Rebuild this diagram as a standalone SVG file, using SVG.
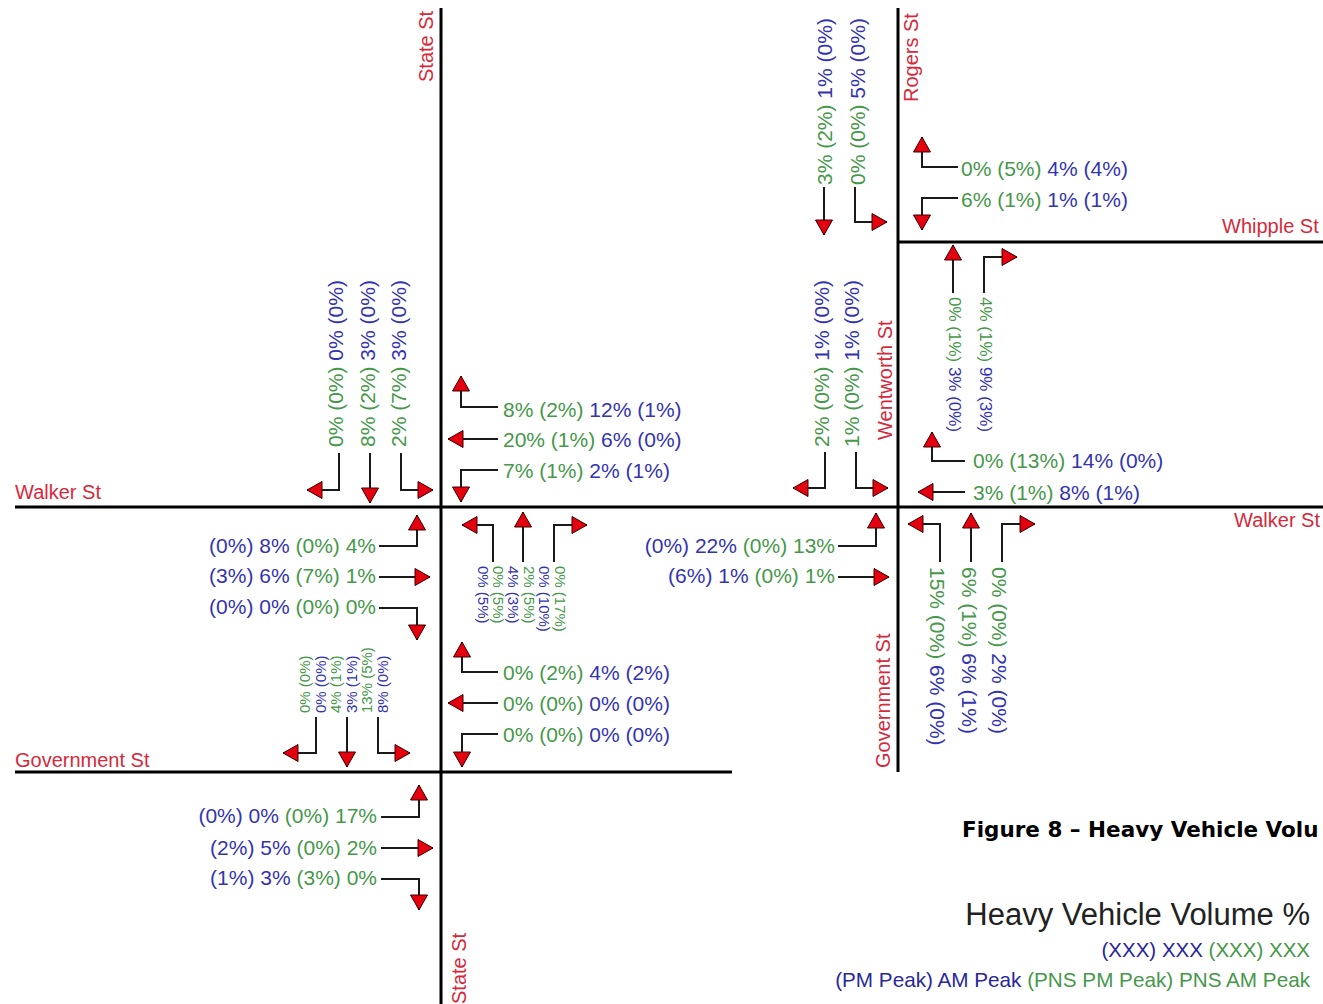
<svg xmlns="http://www.w3.org/2000/svg" width="1323" height="1004" viewBox="0 0 1323 1004">
<style>
text{font-family:"Liberation Sans",Arial,sans-serif}
.lbl{font-size:21px}
.tiny{font-size:15px}
.mid{font-size:17px}
.g{fill:#46984a}
.b{fill:#3434b0}
.st{fill:#d42a3c;font-size:20px}
.road{stroke:#000;stroke-width:3;fill:none}
.arr{stroke:#1a1a1a;stroke-width:2;fill:none;marker-end:url(#ah)}
</style>
<defs>
<marker id="ah" markerUnits="userSpaceOnUse" viewBox="-16 -9 18 18" markerWidth="18" markerHeight="18" refX="0" refY="0" orient="auto" overflow="visible">
<path d="M-15,-8.5 L0,0 L-15,8.5 Z" fill="#e4000f" stroke="#3a0000" stroke-width="1"/>
</marker>
</defs>
<rect width="1323" height="1004" fill="#fff"/>
<g id="roads">
<line class="road" x1="441" y1="8" x2="441" y2="1004"/>
<line class="road" x1="15" y1="507" x2="1323" y2="507"/>
<line class="road" x1="15" y1="772" x2="732" y2="772"/>
<line class="road" x1="898" y1="8" x2="898" y2="772"/>
<line class="road" x1="898" y1="242" x2="1323" y2="242"/>
</g>
<g id="street-names">
<text class="st" transform="translate(433,82) rotate(-90)">State St</text>
<text class="st" x="15" y="499">Walker St</text>
<text class="st" x="15" y="767">Government St</text>
<text class="st" transform="translate(918,102) rotate(-90)">Rogers St</text>
<text class="st" x="1222" y="233">Whipple St</text>
<text class="st" transform="translate(892,440) rotate(-90)">Wentworth St</text>
<text class="st" x="1320" y="527" text-anchor="end">Walker St</text>
<text class="st" transform="translate(890,768) rotate(-90)">Government St</text>
<text class="st" transform="translate(466,1004) rotate(-90)">State St</text>
</g>
<g id="connectors">
<path class="arr" d="M339,453 V490 H307"/>
<path class="arr" d="M370,453 V503"/>
<path class="arr" d="M401,453 V490 H433"/>
<path class="arr" d="M498,407 H461 V376"/>
<path class="arr" d="M498,439 H448"/>
<path class="arr" d="M498,470 H461 V502"/>
<path class="arr" d="M379,546 H417 V515"/>
<path class="arr" d="M379,577 H430"/>
<path class="arr" d="M379,608 H417 V640"/>
<path class="arr" d="M493,562 V525 H462"/>
<path class="arr" d="M523,562 V512"/>
<path class="arr" d="M554,562 V525 H587"/>
<path class="arr" d="M316,717 V753 H283"/>
<path class="arr" d="M347,717 V767"/>
<path class="arr" d="M378,717 V753 H410"/>
<path class="arr" d="M498,672 H462 V642"/>
<path class="arr" d="M498,703 H448"/>
<path class="arr" d="M498,734 H462 V767"/>
<path class="arr" d="M381,817 H419 V785"/>
<path class="arr" d="M381,848 H433"/>
<path class="arr" d="M381,879 H419 V910"/>
<path class="arr" d="M824,187 V235"/>
<path class="arr" d="M855,187 V222 H887"/>
<path class="arr" d="M958,167 H922 V137"/>
<path class="arr" d="M958,198 H922 V230"/>
<path class="arr" d="M953,293 V245"/>
<path class="arr" d="M984,293 V257 H1017"/>
<path class="arr" d="M965,461 H932 V432"/>
<path class="arr" d="M965,492 H918"/>
<path class="arr" d="M825,452 V488 H793"/>
<path class="arr" d="M856,452 V488 H888"/>
<path class="arr" d="M838,546 H876 V513"/>
<path class="arr" d="M838,577 H889"/>
<path class="arr" d="M940,562 V524 H908"/>
<path class="arr" d="M971,562 V513"/>
<path class="arr" d="M1002,562 V524 H1035"/>
</g>
<g id="state-walker-north" class="lbl">
<text transform="translate(343,447) rotate(-90)"><tspan class="g">0% (0%)</tspan><tspan class="b"> 0% (0%)</tspan></text>
<text transform="translate(375,447) rotate(-90)"><tspan class="g">8% (2%)</tspan><tspan class="b"> 3% (0%)</tspan></text>
<text transform="translate(406,447) rotate(-90)"><tspan class="g">2% (7%)</tspan><tspan class="b"> 3% (0%)</tspan></text>
</g>
<g id="state-walker-east" class="lbl">
<text x="503" y="417"><tspan class="g">8% (2%)</tspan><tspan class="b"> 12% (1%)</tspan></text>
<text x="503" y="447"><tspan class="g">20% (1%)</tspan><tspan class="b"> 6% (0%)</tspan></text>
<text x="503" y="478"><tspan class="g">7% (1%)</tspan><tspan class="b"> 2% (1%)</tspan></text>
</g>
<g id="state-walker-west" class="lbl" text-anchor="end">
<text x="376" y="553"><tspan class="b">(0%) 8%</tspan><tspan class="g"> (0%) 4%</tspan></text>
<text x="376" y="583"><tspan class="b">(3%) 6%</tspan><tspan class="g"> (7%) 1%</tspan></text>
<text x="376" y="614"><tspan class="b">(0%) 0%</tspan><tspan class="g"> (0%) 0%</tspan></text>
</g>
<g id="state-walker-south" class="tiny">
<text class="b" transform="translate(478,566) rotate(90)">0% (5%)</text>
<text class="g" transform="translate(493,566) rotate(90)">0% (5%)</text>
<text class="b" transform="translate(508,566) rotate(90)">4% (3%)</text>
<text class="g" transform="translate(524,566) rotate(90)">2% (5%)</text>
<text class="b" transform="translate(539,566) rotate(90)">0% (10%)</text>
<text class="g" transform="translate(555,566) rotate(90)">0% (17%)</text>
</g>
<g id="state-government-north" class="tiny">
<text class="g" transform="translate(310,713) rotate(-90)">0% (0%)</text>
<text class="b" transform="translate(325.5,713) rotate(-90)">0% (0%)</text>
<text class="g" transform="translate(341,713) rotate(-90)">4% (1%)</text>
<text class="b" transform="translate(356.5,713) rotate(-90)">3% (1%)</text>
<text class="g" transform="translate(372,713) rotate(-90)">13% (5%)</text>
<text class="b" transform="translate(387.5,713) rotate(-90)">8% (0%)</text>
</g>
<g id="state-government-east" class="lbl">
<text x="503" y="680"><tspan class="g">0% (2%)</tspan><tspan class="b"> 4% (2%)</tspan></text>
<text x="503" y="711"><tspan class="g">0% (0%)</tspan><tspan class="b"> 0% (0%)</tspan></text>
<text x="503" y="742"><tspan class="g">0% (0%)</tspan><tspan class="b"> 0% (0%)</tspan></text>
</g>
<g id="state-government-west" class="lbl" text-anchor="end">
<text x="377" y="823"><tspan class="b">(0%) 0%</tspan><tspan class="g"> (0%) 17%</tspan></text>
<text x="377" y="855"><tspan class="b">(2%) 5%</tspan><tspan class="g"> (0%) 2%</tspan></text>
<text x="377" y="885"><tspan class="b">(1%) 3%</tspan><tspan class="g"> (3%) 0%</tspan></text>
</g>
<g id="rogers-whipple-north" class="lbl">
<text transform="translate(832,185) rotate(-90)"><tspan class="g">3% (2%)</tspan><tspan class="b"> 1% (0%)</tspan></text>
<text transform="translate(865,185) rotate(-90)"><tspan class="g">0% (0%)</tspan><tspan class="b"> 5% (0%)</tspan></text>
</g>
<g id="rogers-whipple-east" class="lbl">
<text x="961" y="176"><tspan class="g">0% (5%)</tspan><tspan class="b"> 4% (4%)</tspan></text>
<text x="961" y="207"><tspan class="g">6% (1%)</tspan><tspan class="b"> 1% (1%)</tspan></text>
</g>
<g id="wentworth-whipple-south" class="mid">
<text transform="translate(949,297) rotate(90)"><tspan class="g">0% (1%)</tspan><tspan class="b"> 3% (0%)</tspan></text>
<text transform="translate(980,297) rotate(90)"><tspan class="g">4% (1%)</tspan><tspan class="b"> 9% (3%)</tspan></text>
</g>
<g id="wentworth-walker-east" class="lbl">
<text x="973" y="468"><tspan class="g">0% (13%)</tspan><tspan class="b"> 14% (0%)</tspan></text>
<text x="973" y="500"><tspan class="g">3% (1%)</tspan><tspan class="b"> 8% (1%)</tspan></text>
</g>
<g id="wentworth-walker-north" class="lbl">
<text transform="translate(829,447) rotate(-90)"><tspan class="g">2% (0%)</tspan><tspan class="b"> 1% (0%)</tspan></text>
<text transform="translate(859,447) rotate(-90)"><tspan class="g">1% (0%)</tspan><tspan class="b"> 1% (0%)</tspan></text>
</g>
<g id="government-walker-west" class="lbl" text-anchor="end">
<text x="835" y="553"><tspan class="b">(0%) 22%</tspan><tspan class="g"> (0%) 13%</tspan></text>
<text x="835" y="583"><tspan class="b">(6%) 1%</tspan><tspan class="g"> (0%) 1%</tspan></text>
</g>
<g id="government-walker-south" class="lbl">
<text transform="translate(930,567) rotate(90)"><tspan class="g">15% (0%)</tspan><tspan class="b"> 6% (0%)</tspan></text>
<text transform="translate(962,567) rotate(90)"><tspan class="g">6% (1%)</tspan><tspan class="b"> 6% (1%)</tspan></text>
<text transform="translate(992,567) rotate(90)"><tspan class="g">0% (0%)</tspan><tspan class="b"> 2% (0%)</tspan></text>
</g>
<g id="legend">
<text x="962" y="837" style="font-family:'DejaVu Sans','Liberation Sans',sans-serif;font-weight:bold;font-size:21.5px" fill="#000">Figure 8 – Heavy Vehicle Volu</text>
<text x="1310" y="925" text-anchor="end" style="font-size:31px" fill="#222">Heavy Vehicle Volume %</text>
<text x="1310" y="957" text-anchor="end" style="font-size:20.5px"><tspan fill="#28289a">(XXX) XXX</tspan><tspan class="g"> (XXX) XXX</tspan></text>
<text x="1310" y="987" text-anchor="end" style="font-size:20.7px"><tspan fill="#28289a">(PM Peak) AM Peak</tspan><tspan class="g"> (PNS PM Peak) PNS AM Peak</tspan></text>
</g>
</svg>
